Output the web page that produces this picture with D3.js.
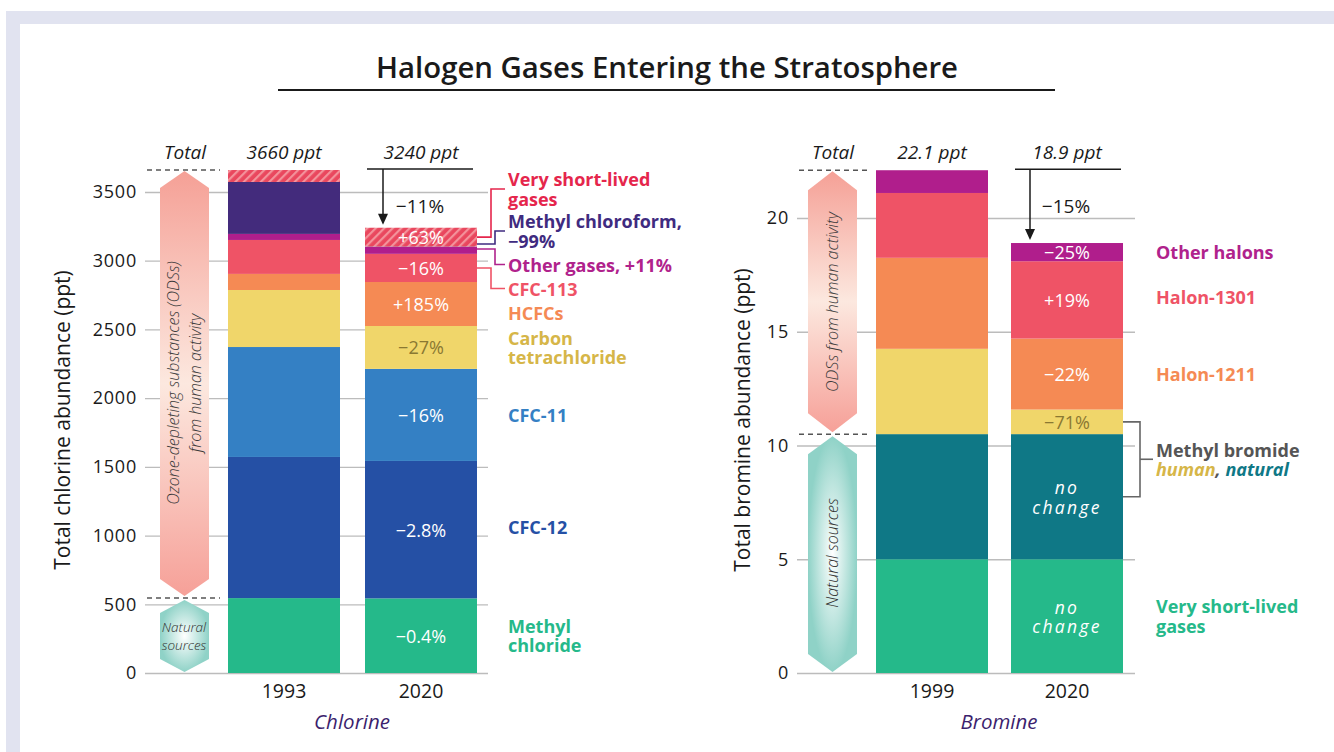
<!DOCTYPE html>
<html><head><meta charset="utf-8">
<script src="https://cdn.jsdelivr.net/npm/d3@7"></script>
<style>body{margin:0;background:#fff}svg{display:block;font-family:"Open Sans",sans-serif}</style>
</head><body><svg id="c" width="1334" height="752"></svg>
<script>
// ---------- DATA ----------
const clCategories = ["Methyl chloride","CFC-12","CFC-11","Carbon tetrachloride","HCFCs","CFC-113","Other gases","Methyl chloroform","Very short-lived gases"];
const clYears = ["1993","2020"];
const cl1993 = [545,1027,800,415,117,247,44,378,87];
const cl2020 = [543,1000,670,312,320,205,50,3,137];
const clChanges = ["\u22120.4%","\u22122.8%","\u221216%","\u221227%","+185%","\u221216%","","","+63%"];
const clTotals = ["3660 ppt","3240 ppt"];
const clTotalValues = [3660,3240];
const clTicks = [0,500,1000,1500,2000,2500,3000,3500];
const clChange = "\u221211%";

const brCategories = ["Very short-lived gases","Methyl bromide natural","Methyl bromide human","Halon-1211","Halon-1301","Other halons"];
const brYears = ["1999","2020"];
const br1999 = [5.0,5.5,3.75,4.0,2.85,1.0];
const br2020 = [5.0,5.5,1.08,3.12,3.4,0.8];
const brChanges = ["no change","no change","\u221271%","\u221222%","+19%","\u221225%"];
const brTotals = ["22.1 ppt","18.9 ppt"];
const brTotalValues = [22.1,18.9];
const brTicks = [0,5,10,15,20];
const brChange = "\u221215%";

// ---------- STYLE ----------
const clColors = {"Methyl chloride":"#25b98a","CFC-12":"#2550a5","CFC-11":"#3480c4","Carbon tetrachloride":"#f0d66a","HCFCs":"#f58a54","CFC-113":"#ef5366","Other gases":"#b01e8c","Methyl chloroform":"#432b7c","Very short-lived gases":"url(#hatch)"};
const brColors = {"Very short-lived gases":"#25b98a","Methyl bromide natural":"#0f7886","Methyl bromide human":"#f0d66a","Halon-1211":"#f58a54","Halon-1301":"#ef5366","Other halons":"#b01e8c"};

const W = 1334, H = 752;
const LABEL_FS = 18, LABEL_LH = 19.5;
const svg = d3.select("#c");
const defs = svg.append("defs");
const hatch = defs.append("pattern").attr("id","hatch").attr("patternUnits","userSpaceOnUse")
  .attr("width",6).attr("height",6).attr("patternTransform","rotate(45)");
hatch.append("rect").attr("width",6).attr("height",6).attr("fill","#e9475e");
hatch.append("rect").attr("width",2.2).attr("height",6).attr("fill","#f3929b");

const pink = defs.append("linearGradient").attr("id","pink").attr("x1",0).attr("y1",0).attr("x2",0).attr("y2",1);
[[0,"#f5a096"],[0.5,"#fce8df"],[1,"#f6a098"]].forEach(s=>pink.append("stop").attr("offset",s[0]).attr("stop-color",s[1]));
const teal = defs.append("radialGradient").attr("id","teal").attr("cx",0.5).attr("cy",0.5).attr("r",0.5);
[[0,"#ffffff"],[1,"#8fd2c7"]].forEach(s=>teal.append("stop").attr("offset",s[0]).attr("stop-color",s[1]));

// background frame
svg.append("rect").attr("x",6).attr("y",11).attr("width",W-6).attr("height",H-11).attr("fill","#e1e3f0");
svg.append("rect").attr("x",20).attr("y",24).attr("width",W-20).attr("height",H-24).attr("fill","#fff");

// title
svg.append("text").attr("x",667).attr("y",67).attr("text-anchor","middle").attr("dominant-baseline","central")
  .attr("font-size",28).attr("font-weight",600).attr("fill","#1a1a1a")
  .attr("textLength",582).attr("lengthAdjust","spacingAndGlyphs").text("Halogen Gases Entering the Stratosphere");
svg.append("line").attr("x1",278).attr("x2",1055).attr("y1",90).attr("y2",90).attr("stroke","#1a1a1a").attr("stroke-width",2);

function hexPath(cx, hw, yTop, yBot, notch){
  return d3.line()([[cx,yTop],[cx+hw,yTop+notch],[cx+hw,yBot-notch],[cx,yBot],[cx-hw,yBot-notch],[cx-hw,yTop+notch]]) + "Z";
}

function panel(o){
  const g = svg.append("g");
  const y = d3.scaleLinear().domain(o.domain).range([673, o.yTopPx]);
  const x = d3.scaleBand().domain(o.years).range(o.barRange).paddingInner(o.pad).paddingOuter(0);
  const ax = g.append("g").attr("transform",`translate(${o.gridX[0]},0)`)
    .call(d3.axisLeft(y).tickValues(o.ticks).tickSize(-(o.gridX[1]-o.gridX[0])).tickPadding(8).tickFormat(d3.format("d")));
  ax.select(".domain").remove();
  ax.selectAll(".tick line").attr("stroke","#bcbcbc").attr("stroke-width",1.3);
  ax.selectAll(".tick text").attr("font-size",18).attr("fill","#1a1a1a").attr("letter-spacing",0.8).attr("font-family","Open Sans");
  g.append("text").attr("transform",`translate(${o.axisTitleX},${o.axisTitleY}) rotate(-90)`).attr("text-anchor","middle")
    .attr("dominant-baseline","central").attr("font-size",21).attr("fill","#1a1a1a").text(o.axisTitle);
  const rows = o.years.map((yr,j)=>{const r={year:yr}; o.cats.forEach((c,i)=>r[c]=o.values[j][i]); return r;});
  const series = d3.stack().keys(o.cats)(rows);
  g.append("g").selectAll("g").data(series).join("g").attr("fill",d=>o.colors[d.key])
    .selectAll("rect").data(d=>d).join("rect")
    .attr("x",d=>x(d.data.year)).attr("width",x.bandwidth())
    .attr("y",d=>y(d[1])).attr("height",d=>y(d[0])-y(d[1]));
  const last = series.map(s=>({key:s.key, d:s[1]}));
  last.forEach((s,i)=>{
    const txt = o.changes[i]; if(!txt) return;
    const cy = y((s.d[0]+s.d[1])/2);
    const cx = x(o.years[1]) + x.bandwidth()/2;
    const dark = o.darkKeys.includes(s.key);
    if(txt==="no change"){
      const t = g.append("text").attr("text-anchor","middle").attr("font-size",17.5).attr("font-style","italic")
        .attr("letter-spacing",2.3).attr("fill","#fff");
      t.append("tspan").attr("x",cx).attr("y",cy-9.5).attr("dominant-baseline","central").text("no");
      t.append("tspan").attr("x",cx).attr("y",cy+10).attr("dominant-baseline","central").text("change");
    } else {
      g.append("text").attr("x",cx).attr("y",cy).attr("text-anchor","middle").attr("dominant-baseline","central")
        .attr("font-size",18).attr("fill",dark?"#8a7832":"#fff").text(txt);
    }
  });
  const xa = g.append("g").attr("transform","translate(0,673)").call(d3.axisBottom(x).tickSize(0).tickPadding(11));
  xa.select(".domain").remove();
  xa.selectAll("text").attr("font-size",19.5).attr("fill","#1a1a1a").attr("font-family","Open Sans");
  g.append("text").attr("x",o.groupX).attr("y",721).attr("text-anchor","middle").attr("dominant-baseline","central")
    .attr("font-size",20.5).attr("font-style","italic").attr("font-weight",500).attr("fill","#3c1f6e").text(o.group);
  const hy = 152;
  g.append("text").attr("x",o.totalX).attr("y",hy).attr("text-anchor","middle").attr("dominant-baseline","central")
    .attr("font-size",19).attr("font-style","italic").attr("fill","#1a1a1a").text("Total");
  o.years.forEach((yr,j)=>{
    g.append("text").attr("x",x(yr)+x.bandwidth()/2).attr("y",hy).attr("text-anchor","middle").attr("dominant-baseline","central")
      .attr("font-size",19).attr("font-style","italic").attr("fill","#1a1a1a").text(o.totals[j]);
  });
  const yT0 = y(o.totalValues[0]);
  g.append("line").attr("x1",o.gridX[0]+2).attr("x2",o.dashEnd).attr("y1",yT0).attr("y2",yT0)
    .attr("stroke","#555").attr("stroke-width",1.5).attr("stroke-dasharray","5,4");
  g.append("line").attr("x1",o.dividerX[0]).attr("x2",o.dividerX[1]).attr("y1",yT0-1).attr("y2",yT0-1)
    .attr("stroke","#1a1a1a").attr("stroke-width",1.5);
  const yT1 = y(o.totalValues[1]);
  g.append("line").attr("x1",o.arrowX).attr("x2",o.arrowX).attr("y1",yT0-1).attr("y2",yT1-12)
    .attr("stroke","#1a1a1a").attr("stroke-width",1.5);
  g.append("path").attr("d",d3.line()([[o.arrowX-5,yT1-14],[o.arrowX+5,yT1-14],[o.arrowX,yT1-3]])+"Z").attr("fill","#1a1a1a");
  g.append("text").attr("x",o.changeX).attr("y",206).attr("text-anchor","middle").attr("dominant-baseline","central")
    .attr("font-size",19).attr("fill","#1a1a1a").text(o.change);
  const yN = y(o.naturalTop);
  g.append("line").attr("x1",o.gridX[0]+2).attr("x2",o.dashEnd).attr("y1",yN).attr("y2",yN)
    .attr("stroke","#555").attr("stroke-width",1.5).attr("stroke-dasharray","5,4");
  g.append("path").attr("d",hexPath(o.hexX, 24.5, yT0+1, yN-2, o.notchODS)).attr("fill","url(#pink)");
  g.append("path").attr("d",hexPath(o.hexX, 24.5, yN+2, y(0)-1, o.notchNat)).attr("fill","url(#teal)");
  return {g,x,y,series};
}

// ---------- CHLORINE ----------
const L = panel({
  cats: clCategories, years: clYears, values:[cl1993, cl2020], colors: clColors, domain:[0,3500], yTopPx:192,
  ticks: clTicks, barRange:[228,477], pad:0.1825, gridX:[145,488], axisTitle:"Total chlorine abundance (ppt)",
  axisTitleX:62, axisTitleY:420, changes: clChanges, darkKeys:["Carbon tetrachloride"], group:"Chlorine", groupX:352,
  totals: clTotals, totalValues: clTotalValues, totalX:185, dashEnd:220, dividerX:[367,473], arrowX:383,
  change: clChange, changeX:420, naturalTop: 545, hexX:184.5, notchODS:17, notchNat:13
});
{
  const g = L.g;
  const t = g.append("text").attr("transform","translate(184,383) rotate(-90)").attr("text-anchor","middle")
    .attr("font-size",16).attr("font-style","italic").attr("font-weight",300).attr("fill","#3a3a3a");
  t.append("tspan").attr("x",0).attr("y",-11).attr("dominant-baseline","central").text("Ozone-depleting substances (ODSs)");
  t.append("tspan").attr("x",0).attr("y",11).attr("dominant-baseline","central").text("from human activity");
  const n = g.append("text").attr("text-anchor","middle").attr("font-size",13.5).attr("font-style","italic")
    .attr("font-weight",300).attr("fill","#2e2e2e");
  n.append("tspan").attr("x",184).attr("y",627).attr("dominant-baseline","central").text("Natural");
  n.append("tspan").attr("x",184).attr("y",645).attr("dominant-baseline","central").text("sources");
}
{
  const g = L.g, y = L.y, x = L.x;
  const barR = x("2020") + x.bandwidth();
  const s = L.series;
  const mid = k => { const d = s.find(q=>q.key===k)[1]; return y((d[0]+d[1])/2); };
  const labels = [
    {key:"Very short-lived gases", lines:["Very short-lived","gases"], color:"#e5264c", cy:189, elbow:491},
    {key:"Methyl chloroform", lines:["Methyl chloroform,","\u221299%"], color:"#3f2b80", cy:231, elbow:495, from:244},
    {key:"Other gases", lines:["Other gases, +11%"], color:"#b0228c", cy:264.5, elbow:495, from:249},
    {key:"CFC-113", lines:["CFC-113"], color:"#ef5366", cy:288.5, elbow:491},
    {key:"HCFCs", lines:["HCFCs"], color:"#f58a54", cy:mid("HCFCs")+9},
    {key:"Carbon tetrachloride", lines:["Carbon","tetrachloride"], color:"#d6b648", cy:mid("Carbon tetrachloride")},
    {key:"CFC-11", lines:["CFC-11"], color:"#3480c4", cy:mid("CFC-11")},
    {key:"CFC-12", lines:["CFC-12"], color:"#2550a5", cy:mid("CFC-12")-3},
    {key:"Methyl chloride", lines:["Methyl","chloride"], color:"#25b98a", cy:mid("Methyl chloride")}
  ];
  labels.forEach(l=>{
    const n = l.lines.length;
    const t = g.append("text").attr("font-size",LABEL_FS).attr("font-weight",700).attr("fill",l.color);
    l.lines.forEach((ln,i)=>t.append("tspan").attr("x",508).attr("y",l.cy + (i-(n-1)/2)*LABEL_LH).attr("dominant-baseline","central").text(ln));
    if(l.elbow){
      const y0 = l.from || mid(l.key);
      g.append("path").attr("d",d3.line()([[barR,y0],[l.elbow,y0],[l.elbow,l.cy],[505,l.cy]]))
        .attr("fill","none").attr("stroke",l.color).attr("stroke-width",1.6);
    }
  });
}

// ---------- BROMINE ----------
const R = panel({
  cats: brCategories, years: brYears, values:[br1999, br2020], colors: brColors, domain:[0,20], yTopPx:218,
  ticks: brTicks, barRange:[876,1123], pad:0.1704, gridX:[797,1135], axisTitle:"Total bromine abundance (ppt)",
  axisTitleX:742, axisTitleY:420, changes: brChanges, darkKeys:["Methyl bromide human"], group:"Bromine", groupX:999,
  totals: brTotals, totalValues: brTotalValues, totalX:833, dashEnd:869, dividerX:[1015,1121], arrowX:1030,
  change: brChange, changeX:1066, naturalTop: 10.5, hexX:832.5, notchODS:19, notchNat:18
});
{
  const g = R.g;
  g.append("text").attr("transform","translate(832,302) rotate(-90)").attr("text-anchor","middle").attr("dominant-baseline","central")
    .attr("font-size",16).attr("font-style","italic").attr("font-weight",300).attr("fill","#3a3a3a").text("ODSs from human activity");
  g.append("text").attr("transform","translate(832,553) rotate(-90)").attr("text-anchor","middle").attr("dominant-baseline","central")
    .attr("font-size",16).attr("font-style","italic").attr("font-weight",300).attr("fill","#2e2e2e").text("Natural sources");
  const y = R.y, x = R.x, s = R.series;
  const barR = x("2020") + x.bandwidth();
  const mid = k => { const d = s.find(q=>q.key===k)[1]; return y((d[0]+d[1])/2); };
  const simple = [
    {text:"Other halons", color:"#b0228c", cy:mid("Other halons")},
    {text:"Halon-1301", color:"#ef5366", cy:mid("Halon-1301")-3},
    {text:"Halon-1211", color:"#f58a54", cy:mid("Halon-1211")}
  ];
  simple.forEach(l=>g.append("text").attr("x",1156).attr("y",l.cy).attr("dominant-baseline","central")
    .attr("font-size",LABEL_FS).attr("font-weight",700).attr("fill",l.color).text(l.text));
  const yh = mid("Methyl bromide human"), yn = mid("Methyl bromide natural"), ym = (yh+yn)/2;
  g.append("path").attr("d",d3.line()([[barR,yh],[1140,yh],[1140,yn],[barR,yn]])).attr("fill","none").attr("stroke","#666").attr("stroke-width",1.6);
  g.append("line").attr("x1",1140).attr("x2",1153).attr("y1",ym).attr("y2",ym).attr("stroke","#666").attr("stroke-width",1.6);
  g.append("text").attr("x",1156).attr("y",ym-LABEL_LH/2).attr("dominant-baseline","central").attr("font-size",LABEL_FS).attr("font-weight",700)
    .attr("fill","#555").text("Methyl bromide");
  const t2 = g.append("text").attr("x",1156).attr("y",ym+LABEL_LH/2).attr("dominant-baseline","central").attr("font-size",LABEL_FS)
    .attr("font-weight",700).attr("font-style","italic");
  t2.append("tspan").attr("fill","#d6b648").text("human");
  t2.append("tspan").attr("fill","#555").text(", ");
  t2.append("tspan").attr("fill","#0f7886").text("natural");
  const v = mid("Very short-lived gases");
  const t3 = g.append("text").attr("font-size",LABEL_FS).attr("font-weight",700).attr("fill","#25b98a");
  t3.append("tspan").attr("x",1156).attr("y",v-LABEL_LH/2).attr("dominant-baseline","central").text("Very short-lived");
  t3.append("tspan").attr("x",1156).attr("y",v+LABEL_LH/2).attr("dominant-baseline","central").text("gases");
}
</script></body></html>
